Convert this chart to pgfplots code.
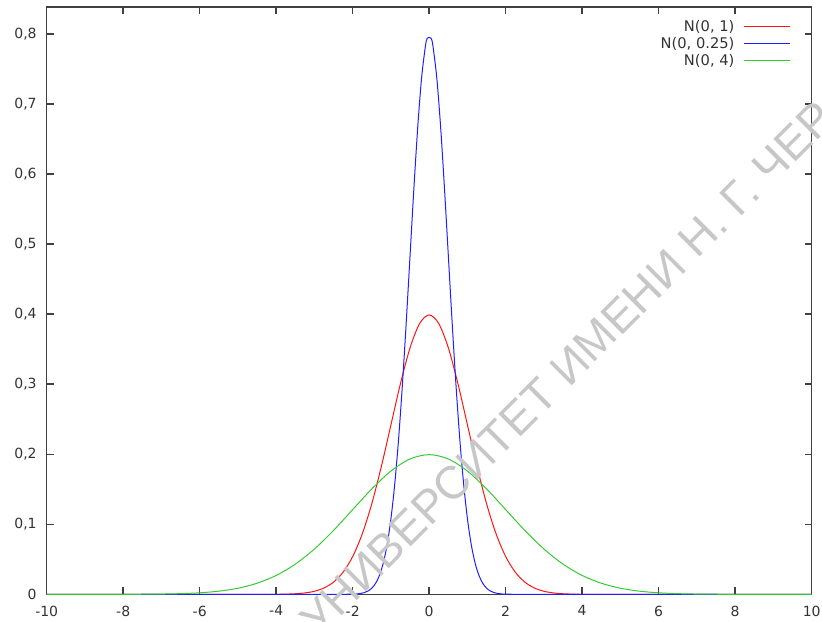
\documentclass[border=0pt]{standalone}
\usepackage{fontspec}
\setmainfont{DejaVu Sans}
\newfontfamily\wmfont{Liberation Sans}
\usepackage{pgfplots}
\pgfplotsset{compat=1.18}

\definecolor{gpred}{RGB}{255,20,20}
\definecolor{gpblue}{RGB}{30,30,255}
\definecolor{gpgreen}{RGB}{50,205,50}
\definecolor{axisgray}{RGB}{64,64,64}

\begin{document}
\begin{tikzpicture}
\begin{axis}[
  scale only axis,
  width=573.7pt, height=440.5pt,
  xmin=-10, xmax=10, ymin=0, ymax=0.8385,
  axis line style={axisgray, line width=1.1pt},
  every tick/.style={axisgray, line width=1.1pt},
  major tick length=5.25pt,
  tick align=inside,
  xtick={-10,-8,...,10},
  xticklabels={-10,-8,-6,-4,-2,0,2,4,6,8,10},
  ytick={0,0.1,...,0.8},
  yticklabels={0,{0,1},{0,2},{0,3},{0,4},{0,5},{0,6},{0,7},{0,8}},
  tick label style={font=\fontsize{10.5}{12}\selectfont, text=black!80},
  xticklabel style={yshift=-5pt},
  yticklabel style={xshift=-4pt},
  legend style={draw=none, fill=none, at={(1,1)}, anchor=north east,
    xshift=-13pt, yshift=-6.5pt, font=\fontsize{11}{12}\selectfont,
    text=black!80, row sep=0.9pt, nodes={inner sep=1pt},
    /tikz/every odd column/.append style={column sep=6pt}},
  legend cell align=right,
  legend plot pos=right,
  legend image code/.code={\draw[#1, line width=0.75pt] (0pt,0pt) -- (34pt,0pt);},
]
% N(0,1)
\addplot[gpred, line width=0.75pt, smooth] coordinates {
  (-10,0) (-5,0.0000015) (-4,0.00013) (-3.75,0.00035) (-3.5,0.00087)
  (-3.25,0.00203) (-3,0.00443) (-2.75,0.00909) (-2.5,0.01753)
  (-2.25,0.03174) (-2,0.05399) (-1.75,0.08628) (-1.5,0.12952)
  (-1.25,0.18265) (-1,0.24197) (-0.75,0.30114) (-0.5,0.35207)
  (-0.25,0.38667) (0,0.39894) (0.25,0.38667) (0.5,0.35207)
  (0.75,0.30114) (1,0.24197) (1.25,0.18265) (1.5,0.12952)
  (1.75,0.08628) (2,0.05399) (2.25,0.03174) (2.5,0.01753)
  (2.75,0.00909) (3,0.00443) (3.25,0.00203) (3.5,0.00087)
  (3.75,0.00035) (4,0.00013) (5,0.0000015) (10,0)
};
% N(0,0.25)
\addplot[gpblue, line width=0.75pt, smooth] coordinates {
  (-10,0) (-3,0) (-2.5,0.000003) (-2,0.00027) (-1.9,0.00058) (-1.8,0.00122)
  (-1.7,0.00246) (-1.6,0.00477) (-1.5,0.00886) (-1.4,0.01583)
  (-1.3,0.02717) (-1.2,0.04479) (-1.1,0.07095) (-1,0.10798)
  (-0.9,0.15790) (-0.8,0.22184) (-0.7,0.29945) (-0.6,0.38837)
  (-0.5,0.48394) (-0.4,0.57938) (-0.3,0.66645) (-0.2,0.73654)
  (-0.1,0.78209) (-0.05,0.79391) (0.05,0.79391) (0.1,0.78209)
  (0.2,0.73654) (0.3,0.66645) (0.4,0.57938) (0.5,0.48394)
  (0.6,0.38837) (0.7,0.29945) (0.8,0.22184) (0.9,0.15790)
  (1,0.10798) (1.1,0.07095) (1.2,0.04479) (1.3,0.02717)
  (1.4,0.01583) (1.5,0.00886) (1.6,0.00477) (1.7,0.00246)
  (1.8,0.00122) (1.9,0.00058) (2,0.00027) (2.5,0.000003) (3,0) (10,0)
};
% N(0,4)
\addplot[gpgreen, line width=0.75pt, smooth] coordinates {
  (-10,0.0000007) (-9,0.000008) (-8.5,0.0000239) (-8,0.0000669)
  (-7.5,0.000176) (-7,0.000436) (-6.5,0.001014) (-6,0.002216)
  (-5.5,0.004547) (-5,0.008764) (-4.5,0.015870) (-4,0.026995)
  (-3.5,0.043140) (-3,0.064759) (-2.5,0.091325) (-2,0.120986)
  (-1.5,0.150569) (-1,0.176033) (-0.5,0.193334) (0,0.199471)
  (0.5,0.193334) (1,0.176033) (1.5,0.150569) (2,0.120986)
  (2.5,0.091325) (3,0.064759) (3.5,0.043140) (4,0.026995)
  (4.5,0.015870) (5,0.008764) (5.5,0.004547) (6,0.002216)
  (6.5,0.001014) (7,0.000436) (7.5,0.000176) (8,0.0000669)
  (8.5,0.0000239) (9,0.000008) (10,0.0000007)
};
\legend{{N(0, 1)},{N(0, 0.25)},{N(0, 4)}}
\coordinate (wm) at (axis cs:-2.88,-0.0636);
\coordinate (bbsw) at (axis cs:-11.221,-0.0381);
\coordinate (bbne) at (axis cs:10.27,0.8485);
\end{axis}
\node[rotate=45, anchor=base west, inner sep=0pt, text=black!22,
  font=\wmfont\fontsize{34.6}{34.6}\selectfont] at (wm)
  {УНИВЕРСИТЕТ ИМЕНИ Н. Г. ЧЕР};
\pgfresetboundingbox
\path (bbsw) rectangle (bbne);
\end{tikzpicture}
\end{document}
